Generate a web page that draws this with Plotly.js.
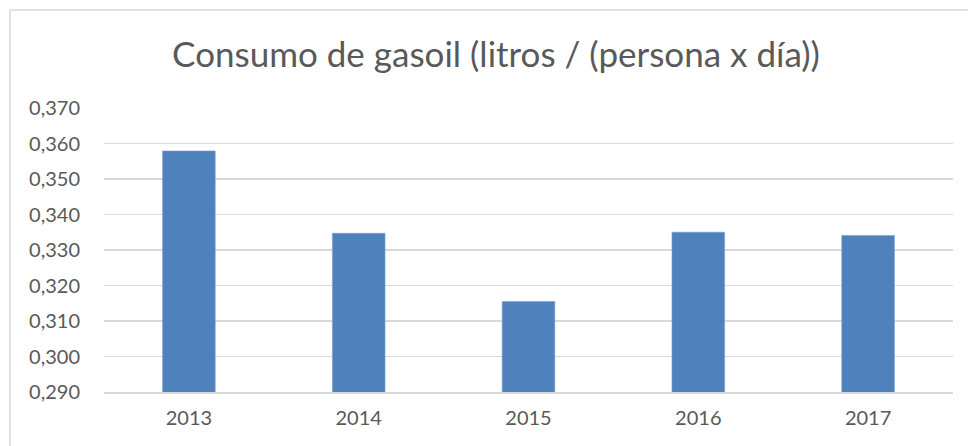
<!DOCTYPE html>
<html>
<head>
<meta charset="utf-8">
<script src="https://cdn.plot.ly/plotly-3.0.1.min.js"></script>
<style>html,body{margin:0;padding:0;background:#fff;}#chart{width:968px;height:446px;}</style>
</head>
<body>
<div id="chart"></div>
<script>
const years = ['2013', '2014', '2015', '2016', '2017'];
const consumo = [0.3579, 0.3347, 0.3155, 0.3350, 0.3341];
const chartTitle = 'Consumo de gasoil (litros / (persona x día))';

const W = 968, H = 446;
const m = {l: 104, r: 15, t: 108, b: 54};
const pw = W - m.l - m.r, ph = H - m.t - m.b;
const px = x => (x - m.l) / pw;
const py = y => (H - m.b - y) / ph;

const trace = {
  type: 'bar',
  x: years,
  y: consumo,
  marker: {color: '#4F81BD', line: {color: '#7A9FD0', width: 0.6}},
  width: 0.31,
  hoverinfo: 'x+y'
};

const layout = {
  width: W, height: H,
  margin: m,
  paper_bgcolor: '#ffffff',
  plot_bgcolor: '#ffffff',
  separators: ',.',
  showlegend: false,
  font: {family: 'Lato, "Open Sans", sans-serif', color: '#595959', size: 20},
  title: {
    text: chartTitle,
    font: {family: 'Lato, "Open Sans", sans-serif', size: 35, color: '#595959'},
    xref: 'container', x: 496 / W, xanchor: 'center',
    y: 1 - 55 / H, yref: 'container', yanchor: 'middle'
  },
  xaxis: {
    type: 'category',
    showgrid: false,
    showline: true, linecolor: '#D9D9D9', linewidth: 1.5,
    ticks: '', ticklabelstandoff: 7,
    tickfont: {size: 20, color: '#595959'},
    fixedrange: true
  },
  yaxis: {
    range: [0.290, 0.370],
    dtick: 0.01, tick0: 0.29,
    tickformat: '.3f',
    showgrid: true, gridcolor: '#D9D9D9', gridwidth: 1.5,
    zeroline: false, showline: false,
    ticks: '', ticklabelstandoff: 23,
    tickfont: {size: 20, color: '#595959'},
    fixedrange: true
  },
  shapes: [
    {type: 'line', xref: 'paper', yref: 'paper', x0: px(10), x1: px(968), y0: py(10), y1: py(10), line: {color: '#D9D9D9', width: 1.5}},
    {type: 'line', xref: 'paper', yref: 'paper', x0: px(10), x1: px(10), y0: py(10), y1: py(446), line: {color: '#D9D9D9', width: 1.5}}
  ]
};

Plotly.newPlot('chart', [trace], layout, {displayModeBar: false, staticPlot: true});
</script>
</body>
</html>
